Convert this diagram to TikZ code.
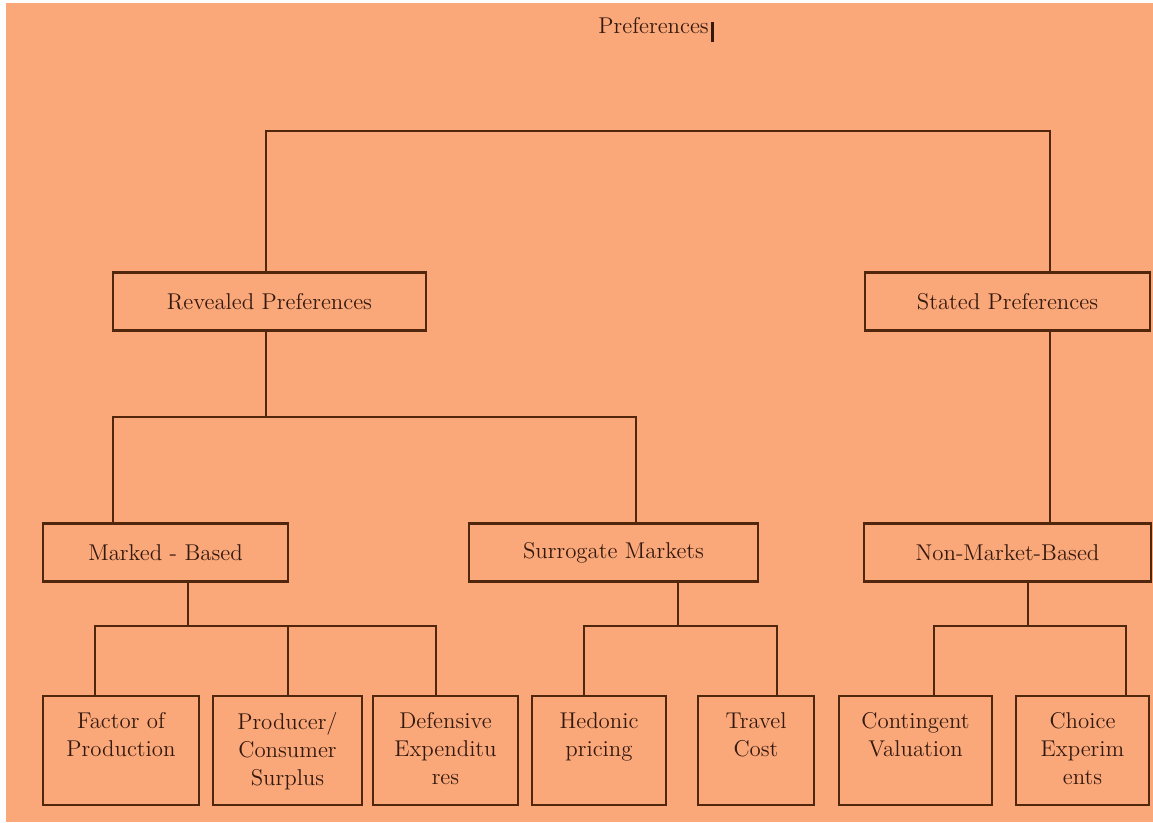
\documentclass[tikz,border=0pt]{standalone}
\usepackage{tikz}
\definecolor{salmon}{RGB}{250,168,122}
\definecolor{ink}{RGB}{80,38,12}
\definecolor{inktext}{RGB}{52,26,14}

\begin{document}
\begin{tikzpicture}[x=0.02cm, y=-0.02cm,
  every node/.style={font=\fontsize{13}{16}\selectfont, text=inktext},
  box/.style={draw=ink, line width=1.3pt, inner sep=0pt, minimum height=1.16cm},
  leaf/.style={box, minimum height=2.18cm},
  lbl/.style={anchor=north, align=center, inner sep=0pt, yshift=-0.34cm},
  wire/.style={draw=ink, line width=1.3pt}]
% page
\fill[white] (0,0) rectangle (1153,822);
\fill[salmon] (6,3) rectangle (1153,822);

\node[anchor=base] (title) at (656,33) {Preferences\hspace{1pt}\rule[-0.18cm]{0.06cm}{0.4cm}};

% second level
\node[box, minimum width=6.26cm] (rev) at (269.5,301.5) {Revealed Preferences};
\node[box, minimum width=5.70cm] (sta) at (1007.5,301.5) {Stated Preferences};

% third level
\node[box, minimum width=4.90cm] (mkt) at (165.5,552.5) {Marked - Based};
\node[box, minimum width=5.78cm] (sur) at (613.5,552.5) {Surrogate Markets};
\node[box, minimum width=5.74cm] (non) at (1007.5,552.5) {Non-Market-Based};

% leaves
\node[leaf, minimum width=3.12cm, label={[lbl]north:Factor of\\Production}] (fac) at (121,750.5) {};
\node[leaf, minimum width=2.98cm, label={[lbl]north:Producer/\\Consumer\\Surplus}] (pro) at (287.5,750.5) {};
\node[leaf, minimum width=2.90cm, label={[lbl]north:Defensive\\Expenditu\\res}] (def) at (445.5,750.5) {};
\node[leaf, minimum width=2.68cm, label={[lbl]north:Hedonic\\pricing}] (hed) at (599,750.5) {};
\node[leaf, minimum width=2.32cm, label={[lbl]north:Travel\\Cost}] (tra) at (756,750.5) {};
\node[leaf, minimum width=3.06cm, label={[lbl]north:Contingent\\Valuation}] (con) at (915.5,750.5) {};
\node[leaf, minimum width=2.66cm, label={[lbl]north:Choice\\Experim\\ents}] (cho) at (1082.5,750.5) {};

% junctions
\coordinate (ja) at (266,131);
\coordinate (jb) at (1050,131);
\coordinate (jc) at (266,417);
\coordinate (jd) at (113,417);
\coordinate (je) at (636,417);
\coordinate (jf) at (188,626);
\coordinate (jg) at (95,626);
\coordinate (jh) at (288,626);
\coordinate (ji) at (436,626);
\coordinate (jj) at (678,626);
\coordinate (jk) at (584,626);
\coordinate (jl) at (777,626);
\coordinate (jm) at (1028,626);
\coordinate (jn) at (934,626);
\coordinate (jo) at (1126,626);

\draw[wire] (ja |- rev.north) -- (ja) -- (jb) -- (jb |- sta.north);
\draw[wire] (jc |- rev.south) -- (jc);
\draw[wire] (jd |- mkt.north) -- (jd) -- (je) -- (je |- sur.north);
\draw[wire] (jb |- sta.south) -- (jb |- non.north);

\draw[wire] (jf |- mkt.south) -- (jf);
\draw[wire] (jg |- fac.north) -- (jg) -- (ji) -- (ji |- def.north);
\draw[wire] (jh) -- (jh |- pro.north);

\draw[wire] (jj |- sur.south) -- (jj);
\draw[wire] (jk |- hed.north) -- (jk) -- (jl) -- (jl |- tra.north);

\draw[wire] (jm |- non.south) -- (jm);
\draw[wire] (jn |- con.north) -- (jn) -- (jo) -- (jo |- cho.north);
\end{tikzpicture}
\end{document}
